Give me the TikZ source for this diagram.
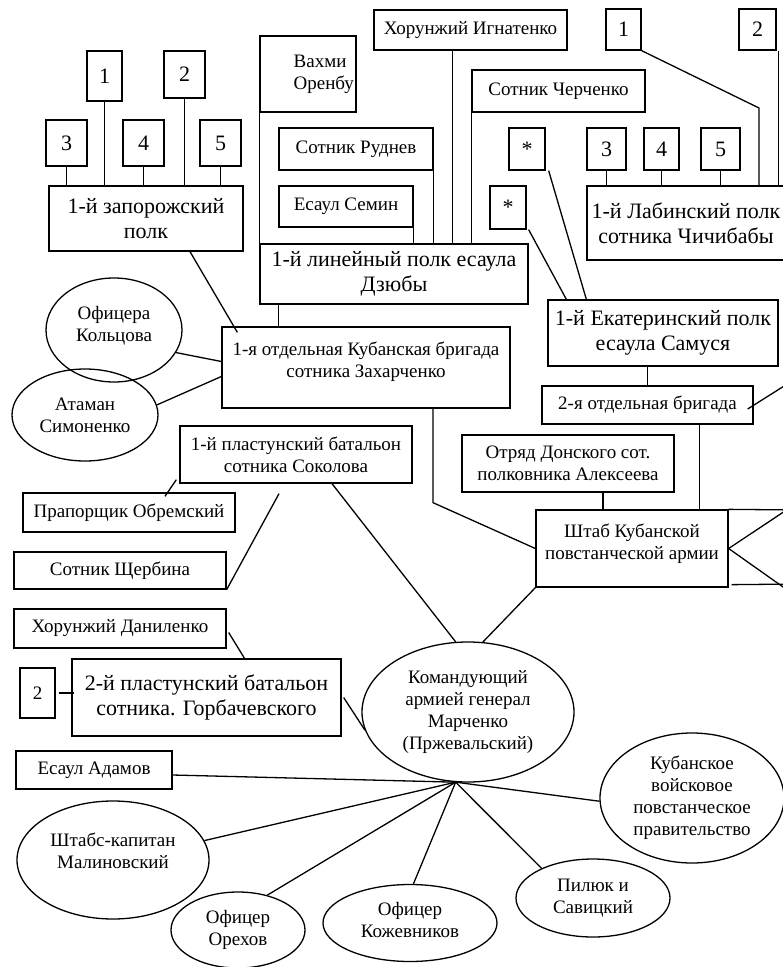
\documentclass[tikz,border=0pt]{standalone}
\usepackage{fontspec}
\setmainfont{Liberation Serif}
\usetikzlibrary{shapes.geometric}

\begin{document}
\begin{tikzpicture}[x=1pt,y=-1pt,line width=1.3pt,
  box node/.style={draw,rectangle,inner sep=0pt,align=center,font=\fontsize{19}{22}\selectfont},
  big node/.style={box node,font=\fontsize{22}{25.5}\selectfont},
  oval node/.style={draw,ellipse,inner sep=0pt,align=center,font=\fontsize{19}{22}\selectfont}]

\useasboundingbox (0,0) rectangle (783,967);

% 1-й запорожский полк
\node[big node,minimum width=35pt,minimum height=50pt] (z1) at (104.5,76) {1};
\node[big node,minimum width=41pt,minimum height=47pt] (z2) at (184.5,74.5) {2};
\node[big node,minimum width=41pt,minimum height=46pt] (z3) at (66.5,143) {3};
\node[big node,minimum width=41pt,minimum height=46pt] (z4) at (143.5,143) {4};
\node[big node,minimum width=41pt,minimum height=46pt] (z5) at (220.5,143) {5};
\node[big node,minimum width=194pt,minimum height=65pt] (zap) at (146,218.5) {1-й запорожский\\полк};
\foreach \n in {z1,z2,z3,z4,z5}
  \draw (\n.south) -- (\n.south |- zap.north);

% 1-й линейный полк
\node[box node,minimum width=96pt,minimum height=76pt] (vakh) at (308,74) {};
\node[box node,draw=none,anchor=west,align=left] (vakh text) at (293,74) {Вахми\\Оренбу};
\node[box node,minimum width=193pt,minimum height=40pt] (ign) at (470.5,30) {Хорунжий Игнатенко};
\node[box node,minimum width=173pt,minimum height=42pt] (cher) at (558.5,91) {Сотник Черченко};
\node[box node,minimum width=154pt,minimum height=42pt] (rud) at (356,149) {Сотник Руднев};
\node[box node,minimum width=134pt,minimum height=41pt] (sem) at (346,206.5) {Есаул Семин};
\node[big node,minimum width=268pt,minimum height=60pt] (lin) at (394,274) {1-й линейный полк есаула\\Дзюбы};
\draw (vakh.south west) -- (lin.north west);
\draw (rud.south east) -- (rud.south east |- lin.north);
\draw (sem.south east) -- (sem.south east |- lin.north);
\draw ([xshift=-18pt]ign.south) -- ([xshift=-18pt]ign.south |- lin.north);
\draw (cher.south west) -- (cher.south west |- lin.north);

% 1-й Лабинский полк
\node[big node,minimum width=35pt,minimum height=41pt] (l1) at (623.5,29.5) {1};
\node[big node,minimum width=37pt,minimum height=41pt] (l2) at (757.5,29.5) {2};
\node[big node,minimum width=39pt,minimum height=42pt] (l3) at (606.5,149) {3};
\node[big node,minimum width=35pt,minimum height=42pt] (l4) at (661.5,149) {4};
\node[big node,minimum width=39pt,minimum height=42pt] (l5) at (720.5,149) {5};
\node[big node,minimum width=198pt,minimum height=74pt] (lab) at (686,223) {1-й Лабинский полк\\сотника Чичибабы};
\coordinate (lbend) at (759,108);
\draw (l1.south east) -- (lbend) -- (lbend |- lab.north);
\draw ([xshift=2pt]l2.south east) -- ([xshift=2pt]l2.south east |- lab.north);
\foreach \n in {l3,l4,l5}
  \draw (\n.south) -- (\n.south |- lab.north);

% 2-я отдельная бригада
\node[big node,minimum width=36pt,minimum height=42pt] (st1) at (527,149) {*};
\node[big node,minimum width=36pt,minimum height=43pt] (st2) at (508,207.5) {*};
\node[big node,minimum width=230pt,minimum height=66pt] (ekat) at (663,333) {1-й Екатеринский полк\\есаула Самуся};
\node[box node,minimum width=211pt,minimum height=38pt] (brig2) at (647.5,405) {2-я отдельная бригада};
\draw ([xshift=3pt]st1.south east) -- ([xshift=39pt]ekat.north west);
\draw ([xshift=2pt]st2.south east) -- ([xshift=19pt]ekat.north west);
\draw (brig2.north |- ekat.south) -- (brig2.north);
\coordinate (off a) at (800,376);
\draw ([shift={(-6,4)}]brig2.east) -- (off a);

% Штаб
\node[box node,minimum width=212pt,minimum height=57pt] (don) at (568,463.5) {Отряд Донского сот.\\полковника Алексеева};
\node[box node,minimum width=192pt,minimum height=77pt,text depth=14pt] (shtab) at (632,548.5) {Штаб Кубанской\\повстанческой армии};
\draw ([xshift=-29pt]shtab.north east) -- ([xshift=-29pt]shtab.north east |- brig2.south);
\draw ([xshift=35pt]don.south) -- ([xshift=35pt]don.south |- shtab.north);
\coordinate (off b) at (800,510);
\coordinate (off c) at (800,501);
\coordinate (off d) at (800,599);
\coordinate (off e) at (800,584);
\draw (shtab.north east) -- (off b);
\draw (shtab.east) -- (off c);
\draw (shtab.east) -- (off d);
\draw ([shift={(3,-3)}]shtab.south east) -- (off e);

% 1-я отдельная Кубанская бригада
\node[box node,minimum width=288pt,minimum height=81pt,text depth=16pt] (brig1) at (366,367.5) {1-я отдельная Кубанская бригада\\сотника Захарченко};
\node[oval node,minimum width=136pt,minimum height=104pt,text depth=12pt] (kol) at (114,330) {Офицера\\Кольцова};
\node[oval node,minimum width=146pt,minimum height=92pt] (ata) at (85,415) {Атаман\\Симоненко};
\draw ([xshift=44pt]zap.south) -- ([shift={(16,6)}]brig1.north west);
\draw ([xshift=19pt]lin.south west) -- ([xshift=19pt]lin.south west |- brig1.north);
\draw (kol.-20) -- ([yshift=6pt]brig1.west);
\draw (ata.8) -- ([yshift=-9pt]brig1.west);
\draw ([xshift=67pt]brig1.south) -- ++(0,94) -- (shtab.west);

% пластунские батальоны
\node[box node,minimum width=232pt,minimum height=57pt] (pl1) at (296,454.5) {1-й пластунский батальон\\сотника Соколова};
\node[box node,minimum width=212pt,minimum height=39pt] (pra) at (129,512.5) {Прапорщик Обремский};
\node[box node,minimum width=212pt,minimum height=37pt] (shch) at (120,570.5) {Сотник Щербина};
\node[box node,minimum width=212pt,minimum height=39pt] (dan) at (120,628.5) {Хорунжий Даниленко};
\node[big node,minimum width=269pt,minimum height=77pt] (pl2) at (206.5,697.5) {2-й пластунский батальон\\сотника. Горбачевского};
\node[box node,minimum width=35pt,minimum height=50pt] (two) at (37.5,693) {2};
\draw ([shift={(36,4)}]pra.north) -- ([shift={(-3,-4)}]pl1.south west);
\draw (shch.south east) -- ([shift={(-17,10)}]pl1.south);
\draw ([shift={(2,4)}]dan.east) -- ([xshift=38pt]pl2.north);
\draw ([xshift=3pt]two.east) -- ([xshift=3pt]two.east -| pl2.west);

% Командующий
\node[oval node,minimum width=212pt,minimum height=140pt] (cmd) at (468,712) {Командующий\\армией генерал\\Марченко\\(Пржевальский)};
\coordinate (hub) at (cmd.-100);
\draw ([xshift=36pt]pl1.south) -- (cmd.100);
\draw (shtab.south west) -- (cmd.78);
\draw ([xshift=2pt]pl2.east) -- (cmd.190);

\node[box node,minimum width=156pt,minimum height=38pt] (ada) at (94,770) {Есаул Адамов};
\node[oval node,minimum width=192pt,minimum height=118pt,text depth=18pt] (shk) at (113,860) {Штабс-капитан\\Малиновский};
\node[oval node,minimum width=134pt,minimum height=76pt] (ore) at (238,930) {Офицер\\Орехов};
\node[oval node,minimum width=174pt,minimum height=77pt,text depth=6pt] (koz) at (410,923) {Офицер\\Кожевников};
\node[oval node,minimum width=154pt,minimum height=78pt,text depth=4pt] (pil) at (593,898) {Пилюк и\\Савицкий};
\node[oval node,minimum width=184pt,minimum height=130pt] (kub) at (692,798) {Кубанское\\войсковое\\повстанческое\\правительство};

\path ([yshift=-5pt]ada.east) edge (hub)
      (shk.12) edge (hub)
      (ore.50) edge (hub)
      (koz.85) edge (hub)
      (pil.150) edge (hub)
      (kub.182) edge (hub);

\end{tikzpicture}
\end{document}
